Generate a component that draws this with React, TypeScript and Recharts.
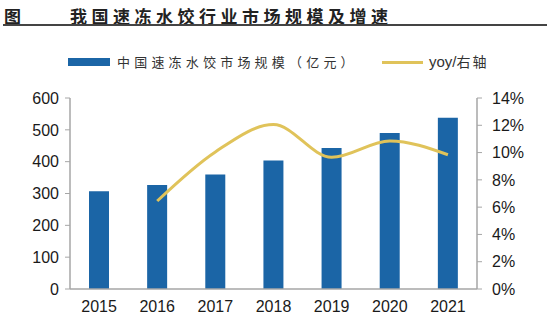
import { Bar, ComposedChart, Line, XAxis, YAxis } from 'recharts'

const years = ['2015', '2016', '2017', '2018', '2019', '2020', '2021']
const marketSize = [307, 327, 360, 404, 443, 490, 538]
const yoy = [null, 0.0645, 0.1005, 0.1205, 0.0965, 0.1085, 0.0984]
const leftTicks = [0, 100, 200, 300, 400, 500, 600]
const rightTicks = [0, 0.02, 0.04, 0.06, 0.08, 0.1, 0.12, 0.14]

const BAR = '#1b65a6'
const LINE = '#e0c35a'
const AXIS = '#a6a6a6'
const TICK_FONT = '"Liberation Sans", Arial, sans-serif'
const CJK = '"Noto Sans CJK SC", sans-serif'

const data = years.map((year, i) => ({ year, size: marketSize[i], yoy: yoy[i] }))

const tickStyle = { fill: '#1a1a1a', fontSize: 16, fontFamily: TICK_FONT }

export default function App() {
  return (
    <div style={{ position: 'absolute', left: 0, top: 0, width: 550, height: 330, background: '#fff' }}>
      <div style={{ position: 'absolute', left: 4, top: 3, fontFamily: CJK, fontWeight: 700, fontSize: 17, color: '#222' }}>
        图
      </div>
      <div
        style={{
          position: 'absolute',
          left: 70,
          top: 3,
          fontFamily: CJK,
          fontWeight: 700,
          fontSize: 17,
          letterSpacing: 4.5,
          color: '#222',
        }}
      >
        我国速冻水饺行业市场规模及增速
      </div>
      <div style={{ position: 'absolute', left: 3, top: 24, width: 544, height: 1.5, background: '#444' }} />

      <div style={{ position: 'absolute', left: 68, top: 58, width: 42, height: 8, background: BAR }} />
      <div
        style={{
          position: 'absolute',
          left: 117,
          top: 52,
          fontFamily: CJK,
          fontSize: 13,
          letterSpacing: 4.2,
          color: '#333',
        }}
      >
        中国速冻水饺市场规模（亿元）
      </div>
      <div style={{ position: 'absolute', left: 382, top: 61, width: 41, height: 3, background: LINE }} />
      <div style={{ position: 'absolute', left: 429, top: 51, fontSize: 15, color: '#333', whiteSpace: 'nowrap' }}>
        <span style={{ fontFamily: TICK_FONT }}>yoy/</span>
        <span style={{ fontFamily: CJK, fontSize: 14, letterSpacing: 2 }}>右轴</span>
      </div>

      <ComposedChart
        width={550}
        height={330}
        data={data}
        margin={{ top: 98, right: 13, bottom: 11, left: 10 }}
        barSize={20}
      >
        <XAxis
          dataKey="year"
          height={30}
          axisLine={{ stroke: AXIS, strokeWidth: 1.5 }}
          tickLine={false}
          tickMargin={6}
          tick={tickStyle}
          interval={0}
        />
        <YAxis
          yAxisId="left"
          width={60}
          domain={[0, 600]}
          ticks={leftTicks}
          axisLine={{ stroke: AXIS, strokeWidth: 1.5 }}
          tickLine={{ stroke: AXIS }}
          tickSize={5}
          tickMargin={6}
          tick={tickStyle}
          interval={0}
        />
        <YAxis
          yAxisId="right"
          orientation="right"
          width={60}
          domain={[0, 0.14]}
          ticks={rightTicks}
          axisLine={{ stroke: AXIS, strokeWidth: 1.5 }}
          tickLine={{ stroke: AXIS }}
          tickSize={5}
          tickMargin={10}
          tick={tickStyle}
          interval={0}
          tickFormatter={(v: number) => `${Math.round(v * 100)}%`}
        />
        <Bar yAxisId="left" dataKey="size" fill={BAR} isAnimationActive={false} />
        <Line
          yAxisId="right"
          dataKey="yoy"
          type="monotone"
          stroke={LINE}
          strokeWidth={3}
          dot={false}
          activeDot={false}
          connectNulls={false}
          isAnimationActive={false}
        />
      </ComposedChart>
    </div>
  )
}
